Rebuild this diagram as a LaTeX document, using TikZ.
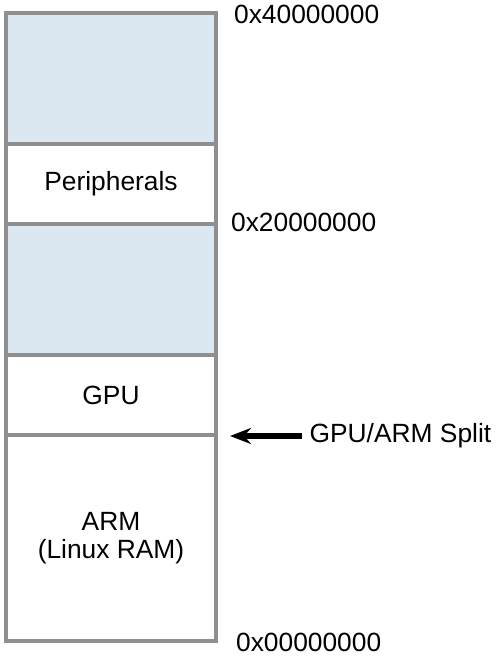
\documentclass[tikz,border=0pt]{standalone}
\usepackage{fontspec}
\setmainfont{Liberation Sans}
\usetikzlibrary{positioning,arrows.meta}
\definecolor{memgray}{HTML}{8F8F8F}
\definecolor{memblue}{HTML}{DCE8F1}
\begin{document}
\begin{tikzpicture}[>=stealth,every node/.style={inner sep=1pt},font=\fontsize{15}{16}\selectfont]
  \useasboundingbox (0,0) rectangle (10,-13.22);
  \tikzset{region/.style={draw=memgray,line width=2.3pt,minimum width=4.2cm,outer sep=0pt,align=center}}
  \def\cx{2.22}
  % memory regions, top to bottom
  \node[region,fill=memblue,minimum height=2.62cm,anchor=north] (high) at (\cx,-0.26) {};
  \node[region,minimum height=1.6cm,below=0pt of high] (periph) {Peripherals};
  \node[region,fill=memblue,minimum height=2.62cm,below=0pt of periph] (mid) {};
  \node[region,minimum height=1.6cm,below=0pt of mid] (gpu) {GPU};
  \node[region,minimum height=4.12cm,below=0pt of gpu] (arm) {ARM\\(Linux RAM)};
  \draw[memgray,line width=2.8pt] (high.north west) rectangle (arm.south east);
  % addresses
  \node[anchor=west] (a40) at (4.64,-0.28) {0x40000000};
  \node[anchor=west] (a20) at (4.58,-4.44) {0x20000000};
  \node[anchor=west] (a00) at (4.68,-12.84) {0x00000000};
  % split marker
  \coordinate (splittip) at (4.60,-8.72);
  \node[anchor=west] (split) at (6.15,-8.72) {GPU/ARM Split};
  \draw[-{Stealth[length=0.42cm,width=0.32cm]},line width=3pt] ([xshift=-0.12cm]split.west) -- (splittip);
\end{tikzpicture}
\end{document}
